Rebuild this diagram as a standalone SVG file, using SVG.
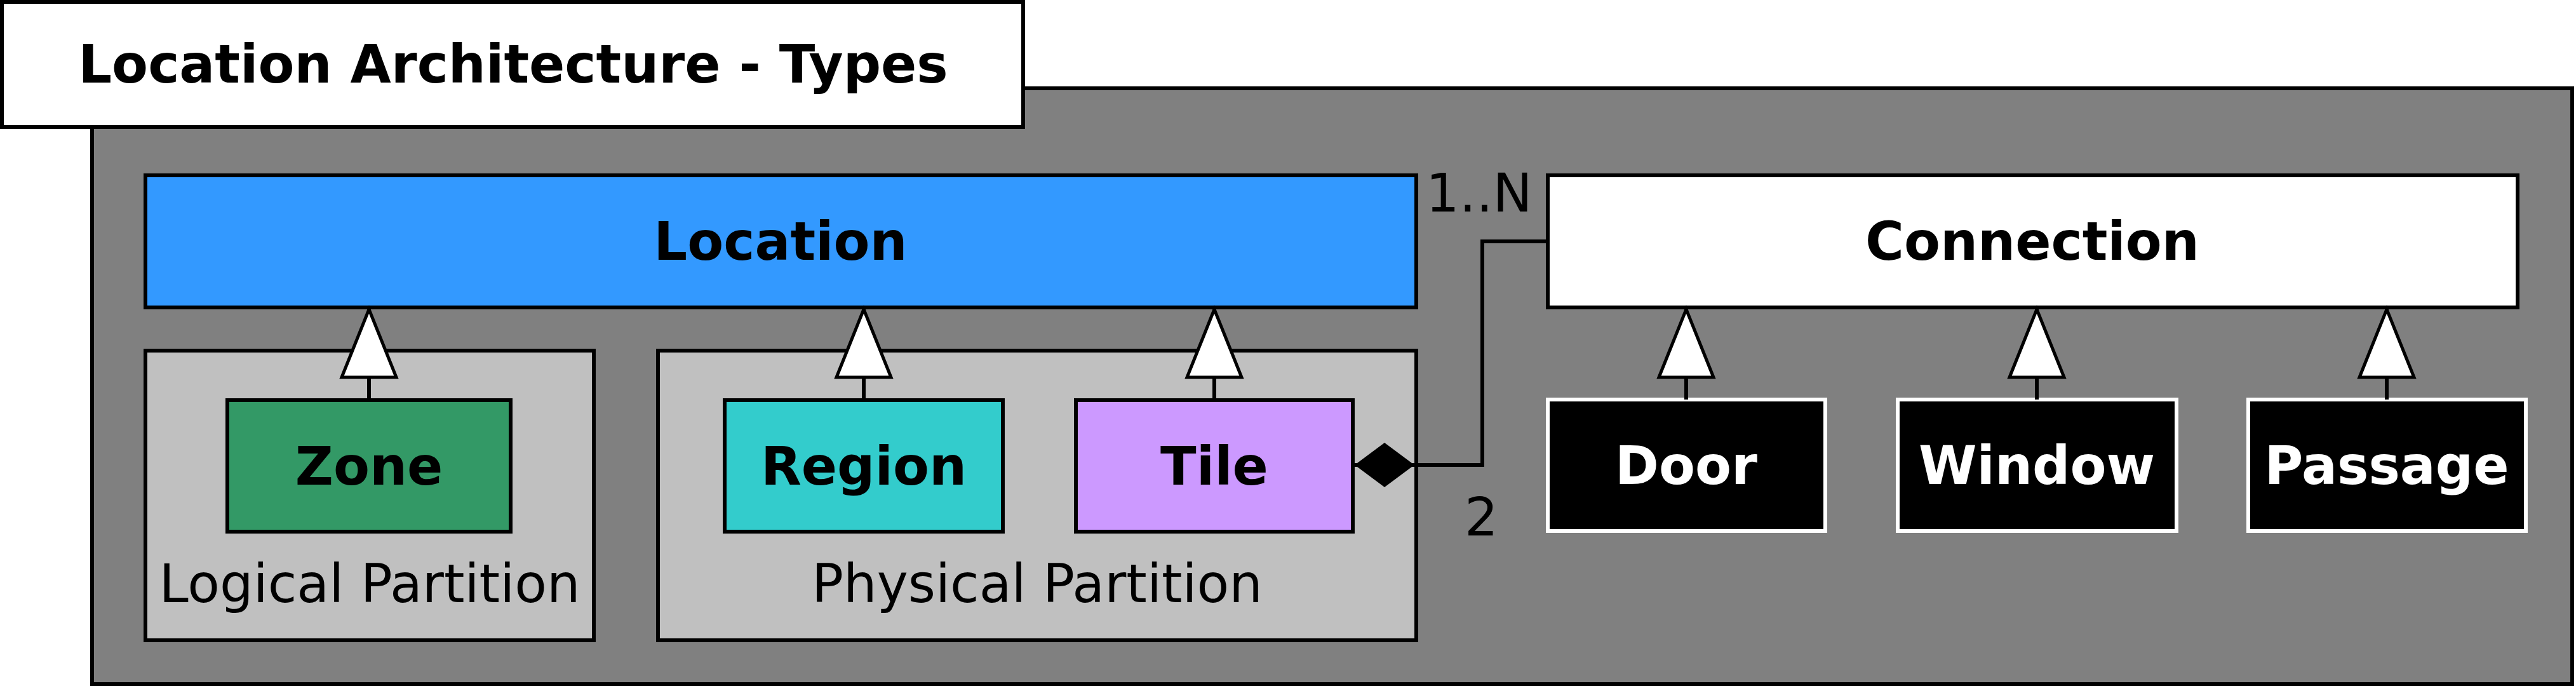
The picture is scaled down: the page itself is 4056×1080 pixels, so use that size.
<svg xmlns="http://www.w3.org/2000/svg" width="4056" height="1080" viewBox="0 0 4056 1080">
<defs>
<style>
.frame{stroke:#000;stroke-width:6}
.wframe{stroke:#fff;stroke-width:6;fill:#000}
.t{font-family:"DejaVu Sans",Verdana,sans-serif;font-size:83px}
.b{font-weight:bold}
.c{text-anchor:middle}
.w{fill:#fff}
.gen{fill:none;stroke:#000;stroke-width:6}
.conn{fill:none;stroke:#000;stroke-width:6}
</style>
<marker id="tri" markerUnits="userSpaceOnUse" markerWidth="120" markerHeight="100" refX="107" refY="43" orient="auto" overflow="visible">
<path d="M0,0 L107,43 L0,86 Z" fill="#fff" stroke="#000" stroke-width="5"/>
</marker>
<marker id="dia" markerUnits="userSpaceOnUse" markerWidth="100" markerHeight="80" refX="0" refY="35" orient="auto" overflow="visible">
<path d="M0,35 L47,0 L94,35 L47,70 Z" fill="#000"/>
</marker>
</defs>
<rect x="0" y="0" width="4056" height="1080" fill="#fff"/>
<g id="panel">
<rect x="145" y="139" width="3905" height="938" fill="#808080" class="frame"/>
</g>
<g id="title">
<rect x="3" y="3" width="1608" height="197" fill="#fff" class="frame"/>
<text x="808" y="130" class="t b c">Location Architecture - Types</text>
</g>
<g id="logical-partition">
<rect x="229" y="552" width="706" height="456" fill="#c0c0c0" class="frame"/>
<text x="582" y="948" class="t c">Logical Partition</text>
</g>
<g id="physical-partition">
<rect x="1036" y="552" width="1194" height="456" fill="#c0c0c0" class="frame"/>
<text x="1633" y="948" class="t c">Physical Partition</text>
</g>
<g id="location">
<rect x="229" y="276" width="2001" height="208" fill="#3399ff" class="frame"/>
<text x="1229" y="409" class="t b c">Location</text>
</g>
<g id="connection">
<rect x="2437" y="276" width="1527" height="208" fill="#fff" class="frame"/>
<text x="3200" y="409" class="t b c">Connection</text>
</g>
<g id="zone">
<rect x="358" y="630" width="446" height="207" fill="#339966" class="frame"/>
<text x="581" y="763" class="t b c">Zone</text>
</g>
<g id="region">
<rect x="1141" y="630" width="438" height="207" fill="#33cccc" class="frame"/>
<text x="1360" y="763" class="t b c">Region</text>
</g>
<g id="tile">
<rect x="1694" y="630" width="436" height="207" fill="#cc99ff" class="frame"/>
<text x="1912" y="763" class="t b c">Tile</text>
</g>
<g id="door">
<rect x="2437" y="629" width="437" height="207" class="wframe"/>
<text x="2655" y="762" class="t b c w">Door</text>
</g>
<g id="window">
<rect x="2988" y="629" width="439" height="207" class="wframe"/>
<text x="3207" y="762" class="t b c w">Window</text>
</g>
<g id="passage">
<rect x="3540" y="629" width="437" height="207" class="wframe"/>
<text x="3758" y="762" class="t b c w">Passage</text>
</g>
<g id="connectors">
<path class="gen" d="M581,630 V487" marker-end="url(#tri)"/>
<path class="gen" d="M1360,630 V487" marker-end="url(#tri)"/>
<path class="gen" d="M1912,630 V487" marker-end="url(#tri)"/>
<path class="gen" d="M2655,629 V487" marker-end="url(#tri)"/>
<path class="gen" d="M3207,629 V487" marker-end="url(#tri)"/>
<path class="gen" d="M3758,629 V487" marker-end="url(#tri)"/>
<path class="conn" d="M2133,732 H2334 V380 H2437" marker-start="url(#dia)"/>
<text x="2245" y="333" class="t">1..N</text>
<text x="2306" y="843" class="t">2</text>
</g>
</svg>
